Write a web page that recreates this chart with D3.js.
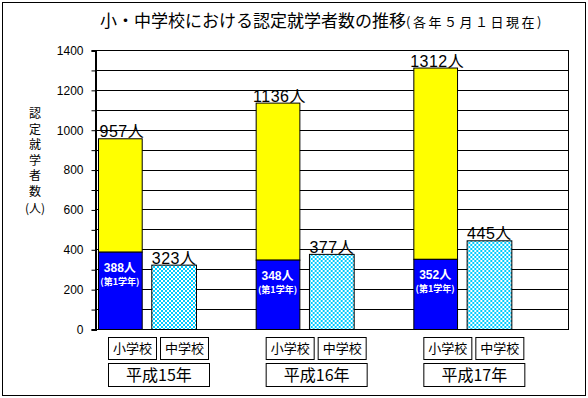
<!DOCTYPE html>
<html>
<head>
<meta charset="utf-8">
<script src="https://cdn.jsdelivr.net/npm/d3@7"></script>
<style>
  body { margin: 0; background: #fff; }
  svg { display: block; }
  text { font-family: "Liberation Sans", Arial, "Noto Sans CJK JP", sans-serif; }
  .jp { font-family: "Noto Sans CJK JP", sans-serif; }
</style>
</head>
<body>
<svg width="588" height="398"></svg>
<script>
const years = ['平成15年', '平成16年', '平成17年'];
const schools = ['小学校', '中学校'];
const elementaryTotal = [957, 1136, 1312];
const elementaryFirst = [388, 348, 352];
const juniorHigh = [323, 377, 445];
const yTicks = d3.range(0, 1401, 200);

const svg = d3.select('svg');
const margin = { left: 95, right: 568, top: 50, bottom: 329 };

const y = d3.scaleLinear().domain([0, 1400]).range([margin.bottom, margin.top]);
const x0 = d3.scaleBand().domain(years).range([margin.left, margin.right]);
const x1 = d3.scaleBand().domain(schools).range([3, 100]).paddingInner(0.18);

// checker pattern for junior high bars
const pat = svg.append('defs').append('pattern')
  .attr('id', 'checker')
  .attr('width', 4).attr('height', 4)
  .attr('patternUnits', 'userSpaceOnUse');
pat.append('rect').attr('width', 4).attr('height', 4).attr('fill', '#fff');
pat.append('rect').attr('width', 2).attr('height', 2).attr('fill', '#00ccff');
pat.append('rect').attr('x', 2).attr('y', 2).attr('width', 2).attr('height', 2).attr('fill', '#00ccff');

// outer frame
svg.append('rect')
  .attr('x', 2.5).attr('y', 2.5).attr('width', 583).attr('height', 393)
  .attr('fill', 'none').attr('stroke', '#000');

// title
const title = svg.append('text')
  .attr('class', 'jp')
  .attr('x', 100).attr('y', 27)
  .attr('font-size', 17);
title.append('tspan').text('小・中学校における認定就学者数の推移');
title.append('tspan').attr('font-size', 13).attr('letter-spacing', 2.5).text('(各年５月１日現在)');

// grid
svg.append('g')
  .selectAll('line')
  .data(d3.range(100, 1400, 100))
  .join('line')
  .attr('x1', margin.left).attr('x2', margin.right)
  .attr('y1', d => Math.round(y(d)) + 0.5).attr('y2', d => Math.round(y(d)) + 0.5)
  .attr('stroke', '#000');

// plot frame
svg.append('rect')
  .attr('x', margin.left + 0.5).attr('y', margin.top + 0.5)
  .attr('width', margin.right - margin.left).attr('height', margin.bottom - margin.top)
  .attr('fill', 'none').attr('stroke', '#000');

// y axis
const yAxis = svg.append('g')
  .attr('transform', `translate(${margin.left + 0.5},0.5)`)
  .call(d3.axisLeft(y).tickValues(d3.range(0, 1401, 100)).tickSize(4).tickFormat(d => (yTicks.includes(d) ? d : '')).tickPadding(8));
yAxis.select('.domain').attr('stroke', '#000').attr('stroke-width', 2);
yAxis.selectAll('text').attr('font-size', 12).attr('fill', '#000')
  .attr('font-family', '"Liberation Sans", Arial, sans-serif');

// y label (vertical)
const yLabel = ['認', '定', '就', '学', '者', '数'];
svg.append('g').selectAll('text')
  .data(yLabel)
  .join('text')
  .attr('class', 'jp')
  .attr('x', 35).attr('y', (d, i) => 118 + i * 15.5)
  .attr('text-anchor', 'middle')
  .attr('font-size', 12)
  .text(d => d);
svg.append('text')
  .attr('class', 'jp')
  .attr('x', 35).attr('y', 213)
  .attr('text-anchor', 'middle')
  .attr('font-size', 12)
  .text('(人)');

const groups = svg.append('g').selectAll('g')
  .data(years)
  .join('g')
  .attr('transform', d => `translate(${x0(d)},0)`);

const bw = x1.bandwidth();

// elementary: yellow total, blue first-year
groups.append('rect')
  .attr('x', x1('小学校') + 0.5)
  .attr('y', (d, i) => y(elementaryTotal[i]) + 0.5)
  .attr('width', bw)
  .attr('height', (d, i) => y(elementaryFirst[i]) - y(elementaryTotal[i]))
  .attr('fill', '#ffff00').attr('stroke', '#000');
groups.append('rect')
  .attr('x', x1('小学校') + 0.5)
  .attr('y', (d, i) => y(elementaryFirst[i]) + 0.5)
  .attr('width', bw)
  .attr('height', (d, i) => y(0) - y(elementaryFirst[i]))
  .attr('fill', '#0000ff').attr('stroke', '#000');

// junior high
groups.append('rect')
  .attr('x', x1('中学校') + 0.5)
  .attr('y', (d, i) => y(juniorHigh[i]) + 0.5)
  .attr('width', bw + 1)
  .attr('height', (d, i) => y(0) - y(juniorHigh[i]))
  .attr('fill', 'url(#checker)').attr('stroke', '#000');

// value labels
groups.append('text')
  .attr('x', x1('小学校') + bw / 2 + 2)
  .attr('y', (d, i) => y(elementaryTotal[i]) - 1)
  .attr('text-anchor', 'middle')
  .attr('font-size', 16)
  .attr('letter-spacing', 0.5)
  .text((d, i) => `${elementaryTotal[i]}人`);
groups.append('text')
  .attr('x', x1('中学校') + bw / 2 + 1)
  .attr('y', (d, i) => y(juniorHigh[i]) - 1)
  .attr('text-anchor', 'middle')
  .attr('font-size', 16)
  .attr('letter-spacing', 0.5)
  .text((d, i) => `${juniorHigh[i]}人`);

groups.append('text')
  .attr('x', x1('小学校') + bw / 2)
  .attr('y', (d, i) => y(elementaryFirst[i]) + 20)
  .attr('text-anchor', 'middle')
  .attr('font-size', 12).attr('font-weight', 'bold').attr('fill', '#fff')
  .text((d, i) => `${elementaryFirst[i]}人`);
groups.append('text')
  .attr('class', 'jp')
  .attr('x', x1('小学校') + bw / 2)
  .attr('y', (d, i) => y(elementaryFirst[i]) + 33)
  .attr('text-anchor', 'middle')
  .attr('font-size', 9).attr('font-weight', 'bold').attr('fill', '#fff')
  .text('(第1学年)');

// category boxes under the axis
const boxOff = 13;
const boxes = groups.append('g').attr('transform', `translate(${boxOff},0)`);
schools.forEach((s, j) => {
  boxes.append('rect')
    .attr('x', 0.5 + j * 52).attr('y', 337.5)
    .attr('width', 48).attr('height', 22)
    .attr('fill', '#fff').attr('stroke', '#000');
  boxes.append('text')
    .attr('class', 'jp')
    .attr('x', 24.5 + j * 52).attr('y', 353)
    .attr('text-anchor', 'middle')
    .attr('font-size', 13)
    .text(s);
});
boxes.append('rect')
  .attr('x', 0.5).attr('y', 363.5)
  .attr('width', 101).attr('height', 23)
  .attr('fill', '#fff').attr('stroke', '#000');
boxes.append('text')
  .attr('class', 'jp')
  .attr('x', 51).attr('y', 381)
  .attr('text-anchor', 'middle')
  .attr('font-size', 16)
  .text(d => d);
</script>
</body>
</html>
